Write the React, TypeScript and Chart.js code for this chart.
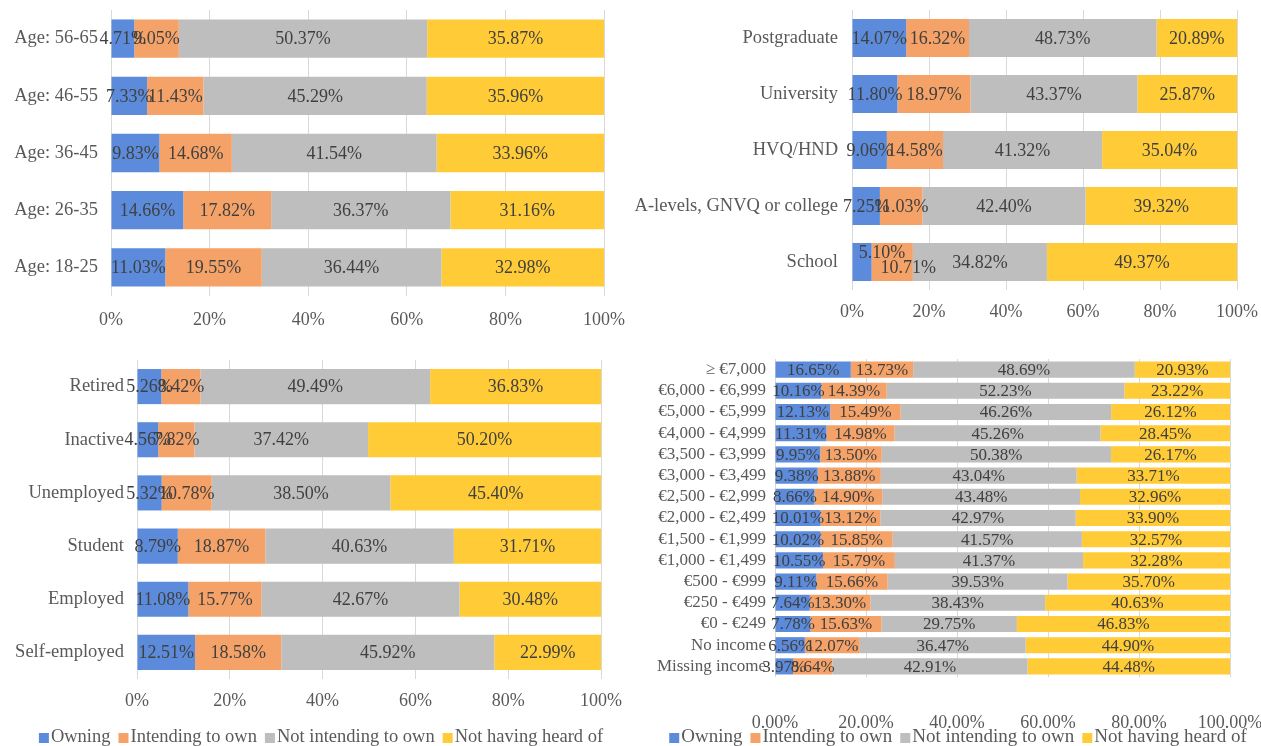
import React, { useEffect, useRef } from 'react';
import { Chart, registerables } from 'chart.js';
Chart.register(...registerables);

const FONT = '"Liberation Serif", "Times New Roman", serif';

const seriesNames = ['Owning', 'Intending to own', 'Not intending to own', 'Not having heard of'];
const seriesColors = ['#5B8BDA', '#F4A267', '#BEBEBE', '#FFCB36'];

// Panel 1: age
const ageCategories = ['Age: 56-65', 'Age: 46-55', 'Age: 36-45', 'Age: 26-35', 'Age: 18-25'];
const ageOwning = [4.71, 7.33, 9.83, 14.66, 11.03];
const ageIntending = [9.05, 11.43, 14.68, 17.82, 19.55];
const ageNotIntending = [50.37, 45.29, 41.54, 36.37, 36.44];
const ageNotHeard = [35.87, 35.96, 33.96, 31.16, 32.98];

// Panel 2: education
const eduCategories = ['Postgraduate', 'University', 'HVQ/HND', 'A-levels, GNVQ or college', 'School'];
const eduOwning = [14.07, 11.8, 9.06, 7.25, 5.1];
const eduIntending = [16.32, 18.97, 14.58, 11.03, 10.71];
const eduNotIntending = [48.73, 43.37, 41.32, 42.4, 34.82];
const eduNotHeard = [20.89, 25.87, 35.04, 39.32, 49.37];

// Panel 3: employment
const empCategories = ['Retired', 'Inactive', 'Unemployed', 'Student', 'Employed', 'Self-employed'];
const empOwning = [5.26, 4.56, 5.32, 8.79, 11.08, 12.51];
const empIntending = [8.42, 7.82, 10.78, 18.87, 15.77, 18.58];
const empNotIntending = [49.49, 37.42, 38.5, 40.63, 42.67, 45.92];
const empNotHeard = [36.83, 50.2, 45.4, 31.71, 30.48, 22.99];

// Panel 4: income
const incCategories = [
  '≥ €7,000', '€6,000 - €6,999', '€5,000 - €5,999', '€4,000 - €4,999', '€3,500 - €3,999',
  '€3,000 - €3,499', '€2,500 - €2,999', '€2,000 - €2,499', '€1,500 - €1,999', '€1,000 - €1,499',
  '€500 - €999', '€250 - €499', '€0 - €249', 'No income', 'Missing income',
];
const incOwning = [16.65, 10.16, 12.13, 11.31, 9.95, 9.38, 8.66, 10.01, 10.02, 10.55, 9.11, 7.64, 7.78, 6.56, 3.97];
const incIntending = [13.73, 14.39, 15.49, 14.98, 13.5, 13.88, 14.9, 13.12, 15.85, 15.79, 15.66, 13.3, 15.63, 12.07, 8.64];
const incNotIntending = [48.69, 52.23, 46.26, 45.26, 50.38, 43.04, 43.48, 42.97, 41.57, 41.37, 39.53, 38.43, 29.75, 36.47, 42.91];
const incNotHeard = [20.93, 23.22, 26.12, 28.45, 26.17, 33.71, 32.96, 33.9, 32.57, 32.28, 35.7, 40.63, 46.83, 44.9, 44.48];

const xTicks = [0, 20, 40, 60, 80, 100];

const barLabelPlugin = {
  id: 'barLabels',
  afterDatasetsDraw(chart: any, _a: any, opts: any) {
    const ctx = chart.ctx;
    const nudges = opts.nudges || [];
    ctx.save();
    ctx.font = `${opts.size}px ${FONT}`;
    ctx.fillStyle = opts.color;
    ctx.textAlign = 'center';
    ctx.textBaseline = 'middle';
    chart.data.datasets.forEach((ds: any, di: number) => {
      const meta = chart.getDatasetMeta(di);
      meta.data.forEach((bar: any, i: number) => {
        const v = ds.data[i];
        const { x, base, y } = bar.getProps(['x', 'base', 'y'], true);
        const n = nudges.find((m: any) => m.ds === di && m.idx === i);
        const dx = n ? n.dx : 0;
        const dy = n ? n.dy : 0;
        ctx.fillText(v.toFixed(2) + '%', (x + base) / 2 + dx, y + 1 + dy);
      });
    });
    ctx.restore();
  },
};

const legendRowPlugin = {
  id: 'legendRow',
  afterDraw(chart: any, _a: any, opts: any) {
    if (!opts || !opts.display) return;
    const ctx = chart.ctx;
    ctx.save();
    ctx.font = `${opts.size}px ${FONT}`;
    ctx.textBaseline = 'middle';
    ctx.textAlign = 'left';
    const box = opts.box;
    const gap = opts.gap;
    const itemGap = opts.itemGap;
    const items = chart.data.datasets.map((d: any) => ({
      text: d.label,
      color: d.backgroundColor,
      w: ctx.measureText(d.label).width,
    }));
    const total = items.reduce((s: number, it: any) => s + box + gap + it.w, 0) + itemGap * (items.length - 1);
    let x = opts.cx - total / 2;
    items.forEach((it: any) => {
      ctx.fillStyle = it.color;
      ctx.fillRect(x, opts.y - box / 2 + 1, box, box);
      x += box + gap;
      ctx.fillStyle = opts.color;
      ctx.fillText(it.text, x, opts.y);
      x += it.w + itemGap;
    });
    ctx.restore();
  },
};

type PanelProps = {
  x: number; y: number; w: number; h: number;
  labels: string[]; series: number[][];
  padT: number; padR: number; padB: number;
  yW: number; xH: number; tickPad: number; catPad: number;
  barPct: number; catSize: number; tickSize: number; labelSize: number;
  decimals: boolean; legend?: { cx: number; y: number; size: number };
  nudges?: { ds: number; idx: number; dx: number; dy: number }[];
};

function Panel(p: PanelProps) {
  const ref = useRef<HTMLCanvasElement | null>(null);
  useEffect(() => {
    if (!ref.current) return;
    const chart = new Chart(ref.current, {
      type: 'bar',
      data: {
        labels: p.labels,
        datasets: p.series.map((d, i) => ({
          label: seriesNames[i],
          data: d,
          backgroundColor: seriesColors[i],
          borderWidth: 0,
          barPercentage: p.barPct,
          categoryPercentage: 1,
        })),
      },
      options: {
        indexAxis: 'y',
        responsive: false,
        maintainAspectRatio: false,
        animation: false,
        layout: { padding: { left: 0, right: p.padR, top: p.padT, bottom: p.padB } },
        scales: {
          x: {
            stacked: true,
            min: 0,
            max: 100,
            afterBuildTicks: (s: any) => { s.ticks = xTicks.map((v) => ({ value: v })); },
            ticks: {
              padding: p.tickPad,
              color: '#595959',
              font: { family: FONT, size: p.tickSize },
              callback: (v: any) => (p.decimals ? Number(v).toFixed(2) : String(v)) + '%',
            },
            grid: { color: '#D9D9D9', drawTicks: false, lineWidth: 1 },
            border: { display: false },
            afterFit: (s: any) => { s.height = p.xH; s.paddingLeft = 0; s.paddingRight = 0; },
          },
          y: {
            stacked: true,
            ticks: {
              padding: p.catPad,
              color: '#595959',
              autoSkip: false,
              font: { family: FONT, size: p.catSize },
            },
            grid: { display: false, drawTicks: false },
            border: { display: false },
            afterFit: (s: any) => { s.width = p.yW; s.paddingTop = 0; s.paddingBottom = 0; },
          },
        },
        plugins: {
          legend: { display: false },
          tooltip: { enabled: false },
          barLabels: { size: p.labelSize, color: '#404040', nudges: p.nudges || [] },
          legendRow: p.legend
            ? { display: true, cx: p.legend.cx, y: p.legend.y, size: p.legend.size, color: '#595959', box: 10, gap: 2, itemGap: 8 }
            : { display: false },
        } as any,
      },
      plugins: [barLabelPlugin, legendRowPlugin],
    } as any);
    return () => chart.destroy();
  }, []);
  return (
    <canvas
      ref={ref}
      width={p.w}
      height={p.h}
      style={{ position: 'absolute', left: p.x, top: p.y, width: p.w, height: p.h }}
    />
  );
}

export default function App() {
  return (
    <div style={{ position: 'absolute', left: 0, top: 0, width: 1261, height: 746, overflow: 'hidden', background: '#ffffff' }}>
      <Panel
        x={0} y={0} w={630} h={340}
        labels={ageCategories}
        series={[ageOwning, ageIntending, ageNotIntending, ageNotHeard]}
        padT={10} padR={26} padB={0} yW={111} xH={44} tickPad={13} catPad={13}
        barPct={0.67} catSize={18.5} tickSize={18} labelSize={18} decimals={false}
      />
      <Panel
        x={630} y={0} w={631} h={340}
        labels={eduCategories}
        series={[eduOwning, eduIntending, eduNotIntending, eduNotHeard]}
        padT={10} padR={24} padB={0} yW={222} xH={50} tickPad={11} catPad={14}
        barPct={0.68} catSize={18.5} tickSize={18} labelSize={18} decimals={false}
        nudges={[{ ds: 0, idx: 4, dx: 20, dy: -10 }, { ds: 1, idx: 4, dx: 16, dy: 5 }]}
      />
      <Panel
        x={0} y={340} w={630} h={406}
        labels={empCategories}
        series={[empOwning, empIntending, empNotIntending, empNotHeard]}
        padT={20} padR={29} padB={0} yW={137} xH={67} tickPad={11} catPad={13}
        barPct={0.66} catSize={18.5} tickSize={18} labelSize={18} decimals={false}
        legend={{ cx: 321, y: 397, size: 18.5 }}
      />
      <Panel
        x={630} y={340} w={631} h={406}
        labels={incCategories}
        series={[incOwning, incIntending, incNotIntending, incNotHeard]}
        padT={19} padR={31} padB={0} yW={145} xH={69} tickPad={35} catPad={9}
        barPct={0.76} catSize={17} tickSize={18} labelSize={17} decimals={true}
        legend={{ cx: 328, y: 397, size: 19 }}
      />
    </div>
  );
}
